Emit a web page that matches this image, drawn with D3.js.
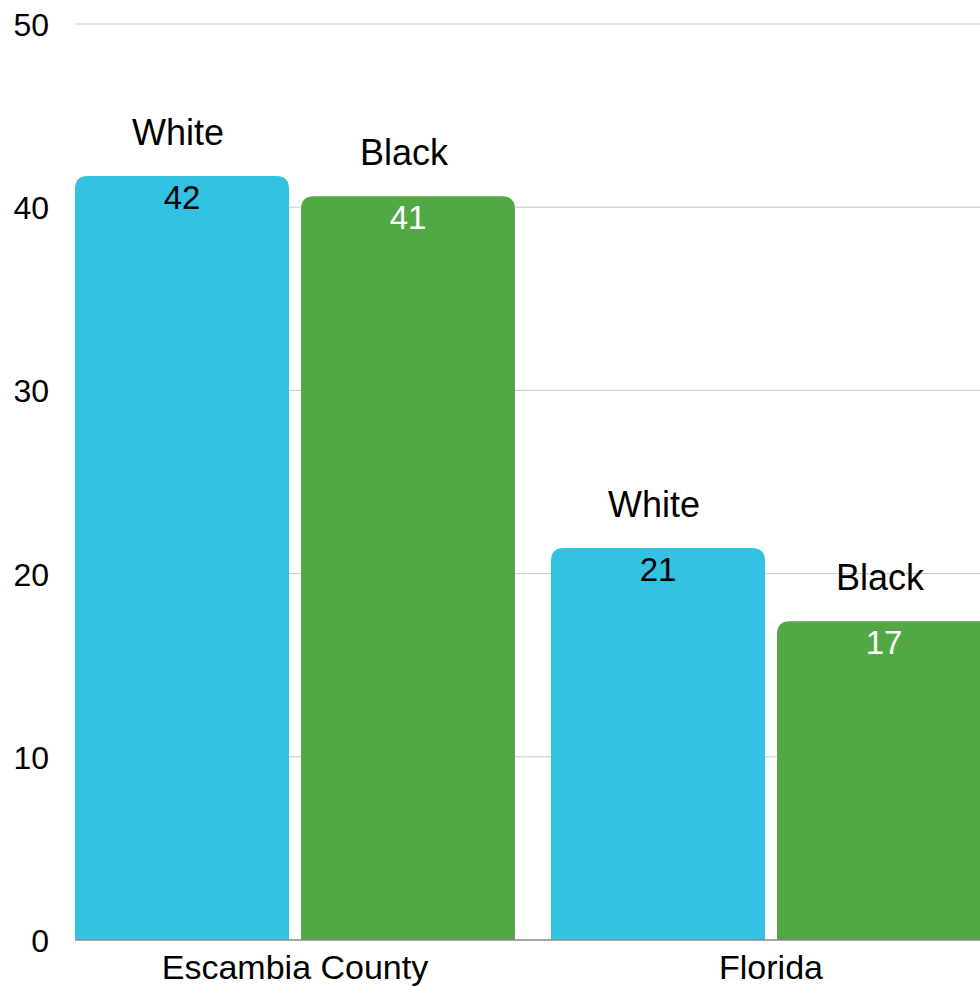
<!DOCTYPE html>
<html>
<head>
<meta charset="utf-8">
<script src="https://cdn.jsdelivr.net/npm/d3@7"></script>
<style>
  html, body { margin: 0; padding: 0; background: #fff; overflow: hidden; }
  svg { display: block; font-family: "Liberation Sans", Arial, sans-serif; }
</style>
</head>
<body>
<svg id="chart" width="980" height="987"></svg>
<script>
const categories = ["Escambia County", "Florida"];
const series = ["White", "Black"];
const whiteValues = [41.7, 21.4];
const blackValues = [40.6, 17.4];
const valueLabels = { White: ["42", "21"], Black: ["41", "17"] };
const yTicks = [0, 10, 20, 30, 40, 50];
const colors = { White: "#33c2e2", Black: "#51a844" };
const labelColors = { White: "#000", Black: "#fff" };

const rows = categories.map((c, i) => ({
  category: c,
  values: [
    { key: "White", value: whiteValues[i], label: valueLabels.White[i] },
    { key: "Black", value: blackValues[i], label: valueLabels.Black[i] }
  ]
}));

const svg = d3.select("#chart");
const mLeft = 75, mRight = 980, mTop = 24, mBottom = 940;

const y = d3.scaleLinear().domain([0, 50]).range([mBottom, mTop]);
const x0 = d3.scaleBand().domain(categories).range([mLeft, 991])
  .paddingInner(36 / 476).paddingOuter(0);
const x1 = d3.scaleBand().domain(series).range([0, x0.bandwidth()])
  .paddingInner(12 / 226).paddingOuter(0);

// gridlines
svg.append("g").selectAll("line").data(yTicks.filter(t => t > 0)).join("line")
  .attr("x1", mLeft).attr("x2", mRight)
  .attr("y1", d => y(d)).attr("y2", d => y(d))
  .attr("stroke", "#c9c9c9").attr("stroke-width", 1);

// y axis labels
const yAxis = d3.axisLeft(y).tickValues(yTicks).tickSize(0).tickPadding(0);
const yg = svg.append("g").attr("transform", `translate(49,0)`).call(yAxis);
yg.select(".domain").remove();
yg.selectAll("text").attr("font-size", 32).attr("fill", "#000")
  .attr("font-family", "Liberation Sans, Arial, sans-serif").attr("dy", "0.36em");

function topRounded(x, yTop, w, h, r) {
  r = Math.min(r, h, w / 2);
  return `M${x},${yTop + h}V${yTop + r}Q${x},${yTop} ${x + r},${yTop}` +
    `H${x + w - r}Q${x + w},${yTop} ${x + w},${yTop + r}V${yTop + h}Z`;
}

const groups = svg.append("g").selectAll("g").data(rows).join("g")
  .attr("transform", d => `translate(${x0(d.category)},0)`);

groups.selectAll("path").data(d => d.values).join("path")
  .attr("d", d => topRounded(x1(d.key), y(d.value), x1.bandwidth(), y(0) - y(d.value), 13))
  .attr("fill", d => colors[d.key]);

// baseline
svg.append("line").attr("x1", mLeft).attr("x2", mRight)
  .attr("y1", y(0)).attr("y2", y(0)).attr("stroke", "#8a8a8a").attr("stroke-width", 1.5);

// value labels
groups.selectAll("text.val").data(d => d.values).join("text").attr("class", "val")
  .attr("x", d => x1(d.key) + x1.bandwidth() / 2)
  .attr("y", d => y(d.value) + 33)
  .attr("text-anchor", "middle").attr("font-size", 33)
  .attr("fill", d => labelColors[d.key])
  .text(d => d.label);

// series labels
groups.selectAll("text.ser").data(d => d.values).join("text").attr("class", "ser")
  .attr("x", d => x1(d.key) + x1.bandwidth() / 2 - 4)
  .attr("y", d => y(d.value) - 31)
  .attr("text-anchor", "middle").attr("font-size", 36).attr("fill", "#000")
  .text(d => d.key);

// category labels
const xAxis = d3.axisBottom(x0).tickSize(0).tickPadding(0);
const xg = svg.append("g").attr("transform", `translate(0,979)`).call(xAxis);
xg.select(".domain").remove();
xg.selectAll("text").attr("font-size", 34).attr("fill", "#000")
  .attr("font-family", "Liberation Sans, Arial, sans-serif").attr("dy", 0);
</script>
</body>
</html>
